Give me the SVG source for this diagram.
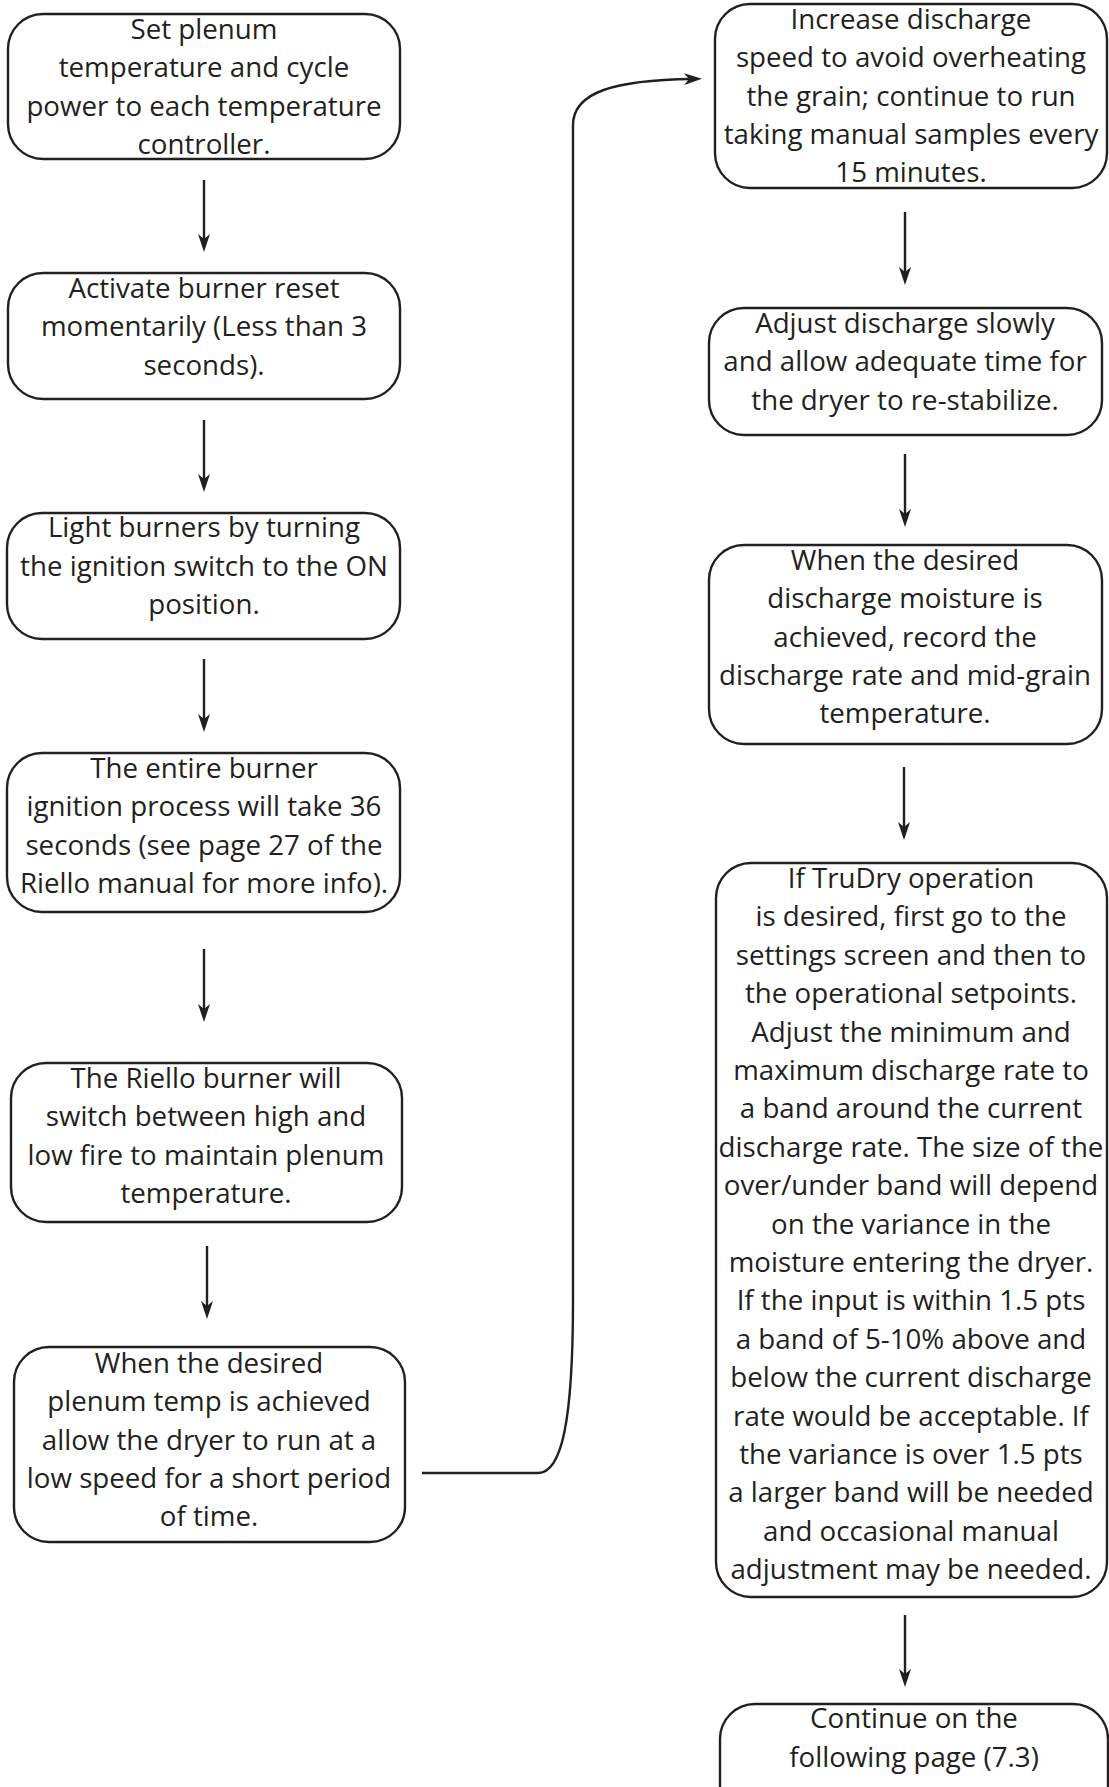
<svg xmlns="http://www.w3.org/2000/svg" width="1109" height="1787" viewBox="0 0 1109 1787">
<style>
.box{fill:#ffffff;stroke:#231f20;stroke-width:2.4}
.t{font-family:"Open Sans","Liberation Sans",sans-serif;font-size:27.7px;fill:#231f20;text-anchor:middle}
.c{fill:none;stroke:#231f20;stroke-width:2.4}
</style>
<defs>
<marker id="ah" markerUnits="userSpaceOnUse" viewBox="0 0 18 12" markerWidth="18" markerHeight="12" refX="8" refY="6" orient="auto">
<path d="M0,0 L18,6 L0,12 L5,6 z" fill="#231f20"/>
</marker>
</defs>
<rect width="1109" height="1787" fill="#ffffff"/>
<g id="connectors">
<line class="c" x1="204" y1="180" x2="204" y2="242" marker-end="url(#ah)"/>
<line class="c" x1="204" y1="420" x2="204" y2="482" marker-end="url(#ah)"/>
<line class="c" x1="204" y1="659" x2="204" y2="722" marker-end="url(#ah)"/>
<line class="c" x1="204" y1="949" x2="204" y2="1012" marker-end="url(#ah)"/>
<line class="c" x1="207" y1="1246" x2="207" y2="1309" marker-end="url(#ah)"/>
<line class="c" x1="905" y1="212" x2="905" y2="275" marker-end="url(#ah)"/>
<line class="c" x1="905" y1="454" x2="905" y2="517" marker-end="url(#ah)"/>
<line class="c" x1="904" y1="767" x2="904" y2="830" marker-end="url(#ah)"/>
<line class="c" x1="905" y1="1615" x2="905" y2="1677" marker-end="url(#ah)"/>
<path class="c" d="M422,1473 L538,1473 C562,1473 573,1420 573,1300 L573,125 C573,92 615,80 692,79" marker-end="url(#ah)"/>
</g>
<g id="n1">
<rect class="box" x="8" y="14" width="392" height="145" rx="35"/>
<text class="t" x="204" y="39">Set plenum</text>
<text class="t" x="204" y="77">temperature and cycle</text>
<text class="t" x="204" y="116">power to each temperature</text>
<text class="t" x="204" y="154">controller.</text>
</g>
<g id="n2">
<rect class="box" x="8" y="273" width="392" height="126" rx="35"/>
<text class="t" x="204" y="298">Activate burner reset</text>
<text class="t" x="204" y="336">momentarily (Less than 3</text>
<text class="t" x="204" y="375">seconds).</text>
</g>
<g id="n3">
<rect class="box" x="7" y="513" width="393" height="126" rx="35"/>
<text class="t" x="204" y="537">Light burners by turning</text>
<text class="t" x="204" y="576">the ignition switch to the ON</text>
<text class="t" x="204" y="614">position.</text>
</g>
<g id="n4">
<rect class="box" x="7" y="753" width="393" height="159" rx="35"/>
<text class="t" x="204" y="778">The entire burner</text>
<text class="t" x="204" y="816">ignition process will take 36</text>
<text class="t" x="204" y="855">seconds (see page 27 of the</text>
<text class="t" x="204" y="893">Riello manual for more info).</text>
</g>
<g id="n5">
<rect class="box" x="11" y="1063" width="391" height="159" rx="35"/>
<text class="t" x="206" y="1088">The Riello burner will</text>
<text class="t" x="206" y="1126">switch between high and</text>
<text class="t" x="206" y="1165">low fire to maintain plenum</text>
<text class="t" x="206" y="1203">temperature.</text>
</g>
<g id="n6">
<rect class="box" x="14" y="1347" width="391" height="195" rx="35"/>
<text class="t" x="209" y="1373">When the desired</text>
<text class="t" x="209" y="1411">plenum temp is achieved</text>
<text class="t" x="209" y="1450">allow the dryer to run at a</text>
<text class="t" x="209" y="1488">low speed for a short period</text>
<text class="t" x="209" y="1526">of time.</text>
</g>
<g id="n7">
<rect class="box" x="715" y="4" width="392" height="184" rx="35"/>
<text class="t" x="911" y="29">Increase discharge</text>
<text class="t" x="911" y="67">speed to avoid overheating</text>
<text class="t" x="911" y="106">the grain; continue to run</text>
<text class="t" x="911" y="144">taking manual samples every</text>
<text class="t" x="911" y="182">15 minutes.</text>
</g>
<g id="n8">
<rect class="box" x="709" y="308" width="393" height="127" rx="35"/>
<text class="t" x="905" y="333">Adjust discharge slowly</text>
<text class="t" x="905" y="371">and allow adequate time for</text>
<text class="t" x="905" y="410">the dryer to re-stabilize.</text>
</g>
<g id="n9">
<rect class="box" x="709" y="545" width="393" height="199" rx="35"/>
<text class="t" x="905" y="570">When the desired</text>
<text class="t" x="905" y="608">discharge moisture is</text>
<text class="t" x="905" y="647">achieved, record the</text>
<text class="t" x="905" y="685">discharge rate and mid-grain</text>
<text class="t" x="905" y="723">temperature.</text>
</g>
<g id="n10">
<rect class="box" x="716" y="863" width="391" height="734" rx="35"/>
<text class="t" x="911" y="888">If TruDry operation</text>
<text class="t" x="911" y="926.4">is desired, first go to the</text>
<text class="t" x="911" y="964.8">settings screen and then to</text>
<text class="t" x="911" y="1003.2">the operational setpoints.</text>
<text class="t" x="911" y="1041.6">Adjust the minimum and</text>
<text class="t" x="911" y="1080">maximum discharge rate to</text>
<text class="t" x="911" y="1118.4">a band around the current</text>
<text class="t" x="911" y="1156.8">discharge rate. The size of the</text>
<text class="t" x="911" y="1195.2">over/under band will depend</text>
<text class="t" x="911" y="1233.6">on the variance in the</text>
<text class="t" x="911" y="1272">moisture entering the dryer.</text>
<text class="t" x="911" y="1310.4">If the input is within 1.5 pts</text>
<text class="t" x="911" y="1348.8">a band of 5-10% above and</text>
<text class="t" x="911" y="1387.2">below the current discharge</text>
<text class="t" x="911" y="1425.6">rate would be acceptable. If</text>
<text class="t" x="911" y="1464">the variance is over 1.5 pts</text>
<text class="t" x="911" y="1502.4">a larger band will be needed</text>
<text class="t" x="911" y="1540.8">and occasional manual</text>
<text class="t" x="911" y="1579.2">adjustment may be needed.</text>
</g>
<g id="n11">
<rect class="box" x="720" y="1704" width="388" height="120" rx="35"/>
<text class="t" x="914" y="1728">Continue on the</text>
<text class="t" x="914" y="1767">following page (7.3)</text>
</g>
</svg>
